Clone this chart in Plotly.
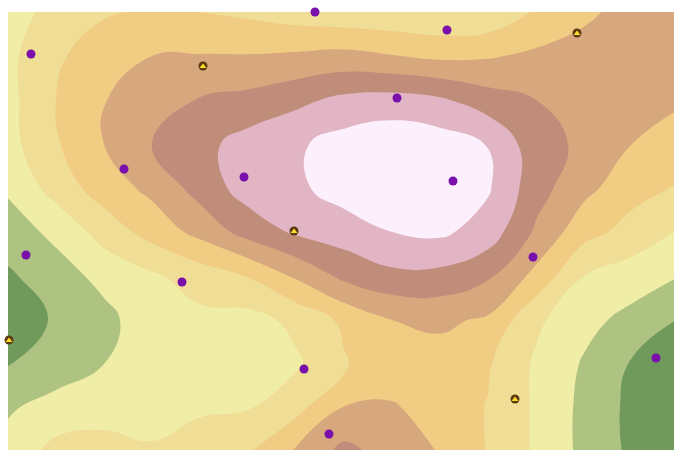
import plotly.graph_objects as go

grid_x = [8, 56, 104, 152, 200, 248, 296, 344, 392, 440, 488, 536, 584, 632, 680]
grid_y = [12, 56, 100, 144, 188, 232, 276, 320, 364, 408, 452]

row_012 = [2.8, 3.15, 3.9, 4.1, 4.0, 3.8, 3.5, 3.3, 3.2, 3.1, 3.2, 4.1, 4.8, 5.35, 5.4]
row_056 = [2.75, 3.85, 4.5, 5.0, 5.05, 5.05, 5.15, 5.3, 5.05, 4.8, 4.9, 5.2, 5.4, 5.5, 5.3]
row_100 = [2.7, 4.0, 4.95, 5.7, 6.05, 6.3, 6.75, 7.25, 7.4, 7.15, 6.45, 6.0, 5.65, 5.4, 5.1]
row_144 = [2.65, 3.9, 5.0, 6.0, 6.7, 7.4, 7.85, 8.4, 8.7, 8.5, 7.98, 6.4, 5.8, 5.0, 4.6]
row_188 = [2.15, 3.4, 4.5, 5.25, 6.4, 7.45, 7.8, 8.45, 8.75, 8.6, 8.12, 6.4, 5.3, 4.35, 3.9]
row_232 = [1.5, 2.25, 3.4, 4.4, 5.3, 6.4, 7.15, 7.5, 8.0, 8.2, 7.55, 5.85, 4.35, 3.65, 2.9]
row_276 = [0.85, 1.55, 2.3, 2.85, 3.45, 4.05, 5.15, 6.25, 6.75, 6.7, 6.15, 4.7, 3.0, 2.5, 2.0]
row_320 = [0.5, 1.1, 1.7, 2.6, 2.75, 2.65, 3.25, 4.2, 5.0, 5.2, 4.85, 3.2, 2.3, 1.7, 0.95]
row_364 = [0.95, 1.5, 2.0, 2.4, 2.5, 2.55, 2.85, 3.9, 4.45, 4.55, 4.1, 2.85, 1.9, 0.9, 0.3]
row_408 = [1.9, 2.35, 2.7, 2.7, 2.85, 2.95, 3.7, 5.05, 5.1, 4.6, 3.95, 2.85, 1.75, 0.75, 0.1]
row_452 = [2.3, 3.35, 3.3, 3.1, 3.55, 3.95, 5.1, 6.3, 5.6, 4.95, 3.95, 2.85, 1.75, 0.8, 0.1]
z_rows = [row_012, row_056, row_100, row_144, row_188, row_232, row_276, row_320, row_364, row_408, row_452]

band_colors = ["#6f9a5b", "#aec381", "#f0eea6", "#f0de97", "#f1cc83", "#d7a77e", "#c08d7a", "#e2b5c4", "#fcf0fc"]

purple_x = [315, 447, 31, 397, 124, 244, 453, 533, 26, 182, 304, 656, 329, 64, 675, 675]
purple_y = [12, 30, 54, 98, 169, 177, 181, 257, 255, 282, 369, 358, 434, 451, 44, 210]
yellow_x = [203, 577, 294, 9, 515]
yellow_y = [66, 33, 231, 340, 399]

n = len(band_colors)
scale = []
for i, c in enumerate(band_colors):
    scale.append([i / n, c])
    scale.append([(i + 1) / n, c])

fig = go.Figure()
fig.add_trace(go.Contour(
    x=grid_x, y=grid_y, z=z_rows,
    zmin=0, zmax=n, colorscale=scale, showscale=False,
    autocontour=False,
    contours=dict(start=1, end=8, size=1, coloring="fill", showlines=False),
    line=dict(width=0, smoothing=1.3),
    hoverinfo="skip",
))
fig.add_trace(go.Scatter(
    x=purple_x, y=purple_y, mode="markers", cliponaxis=False,
    marker=dict(size=9, color="#7a10ab", line=dict(width=0)),
))
fig.add_trace(go.Scatter(
    x=yellow_x, y=yellow_y, mode="markers", cliponaxis=False,
    marker=dict(size=9, color="#5a3a10", line=dict(width=0)),
))
fig.add_trace(go.Scatter(
    x=yellow_x, y=[v + 0.5 for v in yellow_y], mode="markers", cliponaxis=False,
    marker=dict(size=6, symbol="triangle-up", color="#ffdc2a", line=dict(width=0)),
))
fig.update_layout(
    width=674, height=450, margin=dict(l=0, r=0, t=0, b=0),
    paper_bgcolor="white", plot_bgcolor="white", showlegend=False,
    xaxis=dict(range=[0, 674], visible=False, fixedrange=True),
    yaxis=dict(range=[450, 0], visible=False, fixedrange=True),
)
fig.write_html(
    "out.html",
    config={"displayModeBar": False},
    post_script="document.body.style.margin='0';document.documentElement.style.overflow='hidden';",
)
